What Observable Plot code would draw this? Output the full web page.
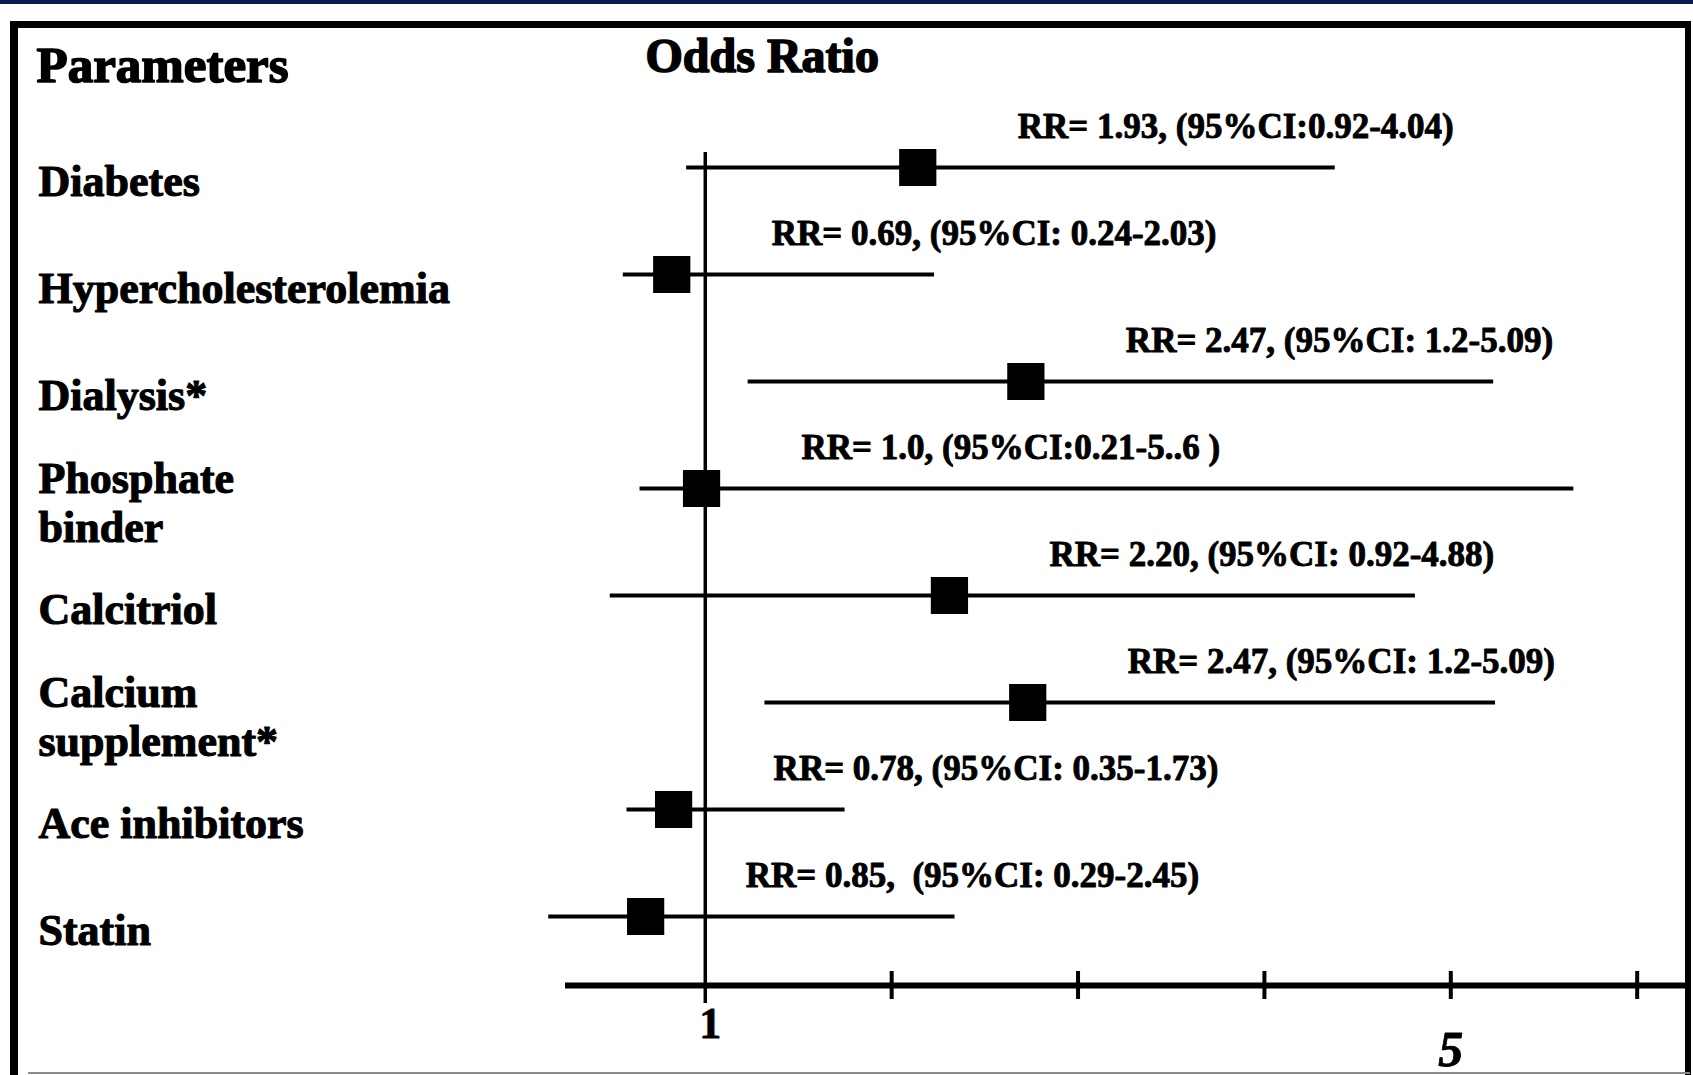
<!DOCTYPE html>
<html>
<head>
<meta charset="utf-8">
<script src="https://cdn.jsdelivr.net/npm/d3@7"></script>
<script src="https://cdn.jsdelivr.net/npm/@observablehq/plot@0.6"></script>
<style>
  html, body { margin: 0; padding: 0; background: #fff; overflow: hidden; }
  #wrap { position: relative; width: 1693px; height: 1075px; overflow: hidden; }
  #navy { position: absolute; left: 0; top: 0; width: 1693px; height: 4px; background: #0b1a52; }
  #box { position: absolute; left: 10px; top: 21px; width: 1667px; height: 1100px;
         border-top: 7px solid #000; border-left: 8px solid #000; border-right: 6px solid #000; pointer-events: none; }
  #bottomline { position: absolute; left: 28px; top: 1072px; width: 1662px; height: 2px; background: #8a8a8a; }
  #chart { position: absolute; left: 0; top: 0; }
</style>
</head>
<body>
<div id="wrap">
  <div id="chart"></div>
  <div id="navy"></div>
  <div id="box"></div>
  <div id="bottomline"></div>
</div>
<script>
// Categories (top to bottom)
const params = ["Diabetes", "Hypercholesterolemia", "Dialysis*", "Phosphate\nbinder", "Calcitriol",
                "Calcium\nsupplement*", "Ace inhibitors", "Statin"];
// Values as drawn in the picture (odds ratio point and CI ends)
const rr     = [2.14, 0.82, 2.72, 0.98, 2.31, 2.73, 0.83, 0.68];
const ciLow  = [0.90, 0.56, 1.23, 0.65, 0.49, 1.32, 0.58, 0.16];
const ciHigh = [4.38, 2.23, 5.23, 5.66, 4.81, 5.24, 1.75, 2.34];
// Annotation texts as printed
const annotations = [
  "RR= 1.93, (95%CI:0.92-4.04)",
  "RR= 0.69, (95%CI: 0.24-2.03)",
  "RR= 2.47, (95%CI: 1.2-5.09)",
  "RR= 1.0, (95%CI:0.21-5..6 )",
  "RR= 2.20, (95%CI: 0.92-4.88)",
  "RR= 2.47, (95%CI: 1.2-5.09)",
  "RR= 0.78, (95%CI: 0.35-1.73)",
  "RR= 0.85,  (95%CI: 0.29-2.45)"
];
// Axis
const xDomain = [0.25, 6.27];
const tickValues = [2, 3, 4, 5, 6];
const tickLabelsNear = [1];
const tickLabelsFar = [5];
const headerLeft = ["Parameters"];
const headerRight = ["Odds Ratio"];

const rows = params.map((p, i) => ({param: p, rr: rr[i], lo: ciLow[i], hi: ciHigh[i], label: annotations[i]}));

const font = "'Liberation Serif', 'Times New Roman', serif";
const marginTop = 152, marginBottom = 89, height = 1075;
const frameH = height - marginTop - marginBottom;

const chart = Plot.plot({
  width: 1693,
  height,
  marginLeft: 565,
  marginRight: 6,
  marginTop,
  marginBottom,
  style: {fontFamily: font, background: "transparent", overflow: "visible"},
  x: {type: "linear", domain: xDomain, axis: null},
  y: {type: "point", domain: params, padding: 0, insetTop: 14, insetBottom: 69, axis: null},
  marks: [
    // vertical reference line at 1
    Plot.ruleX([1], {stroke: "#000", strokeWidth: 3.5, insetBottom: -17}),
    // x axis line
    Plot.ruleY([params[params.length - 1]], {y: d => d, dy: 69, stroke: "#000", strokeWidth: 6}),
    // tick marks crossing the axis line
    Plot.ruleX(tickValues, {x: d => d, stroke: "#000", strokeWidth: 4, insetTop: frameH - 15, insetBottom: -13}),
    // tick labels
    Plot.text(tickLabelsNear, {x: d => d, text: d => String(d), frameAnchor: "bottom", lineAnchor: "middle", dy: 37, dx: 5,
      fontSize: 44, fontWeight: "bold", fill: "#000", stroke: "#000", strokeWidth: 0.8}),
    Plot.text(tickLabelsFar, {x: d => d, text: d => String(d), frameAnchor: "bottom", lineAnchor: "middle", dy: 63,
      fontSize: 50, fontWeight: "bold", fontStyle: "italic", fill: "#000", stroke: "#000", strokeWidth: 0.8}),
    // confidence intervals
    Plot.ruleY(rows, {y: "param", x1: "lo", x2: "hi", stroke: "#000", strokeWidth: 4}),
    // point estimates
    Plot.dot(rows, {x: "rr", y: "param", symbol: "square", r: 21, fill: "#000", stroke: "none"}),
    // annotations
    Plot.text(rows, {x: "rr", y: "param", text: "label", textAnchor: "start", lineAnchor: "middle", dx: 100, dy: -41,
      fontSize: 35, fontWeight: "bold", fill: "#000", stroke: "#000", strokeWidth: 0.9}),
    // row labels
    Plot.text(rows, {y: "param", text: "param", frameAnchor: "left", textAnchor: "start", lineAnchor: "middle", dx: -527, dy: 13,
      fontSize: 44, fontWeight: "bold", lineHeight: 1.13, fill: "#000", stroke: "#000", strokeWidth: 1.1}),
    // headers
    Plot.text(headerLeft, {text: d => d, frameAnchor: "top-left", textAnchor: "start", lineAnchor: "middle", dx: -529, dy: -87,
      fontSize: 51, fontWeight: "bold", fill: "#000", stroke: "#000", strokeWidth: 1.6}),
    Plot.text(headerRight, {text: d => d, frameAnchor: "top-left", textAnchor: "start", lineAnchor: "middle", dx: 80, dy: -96,
      fontSize: 48, fontWeight: "bold", fill: "#000", stroke: "#000", strokeWidth: 1.6})
  ]
});
document.getElementById("chart").appendChild(chart);
</script>
</body>
</html>
